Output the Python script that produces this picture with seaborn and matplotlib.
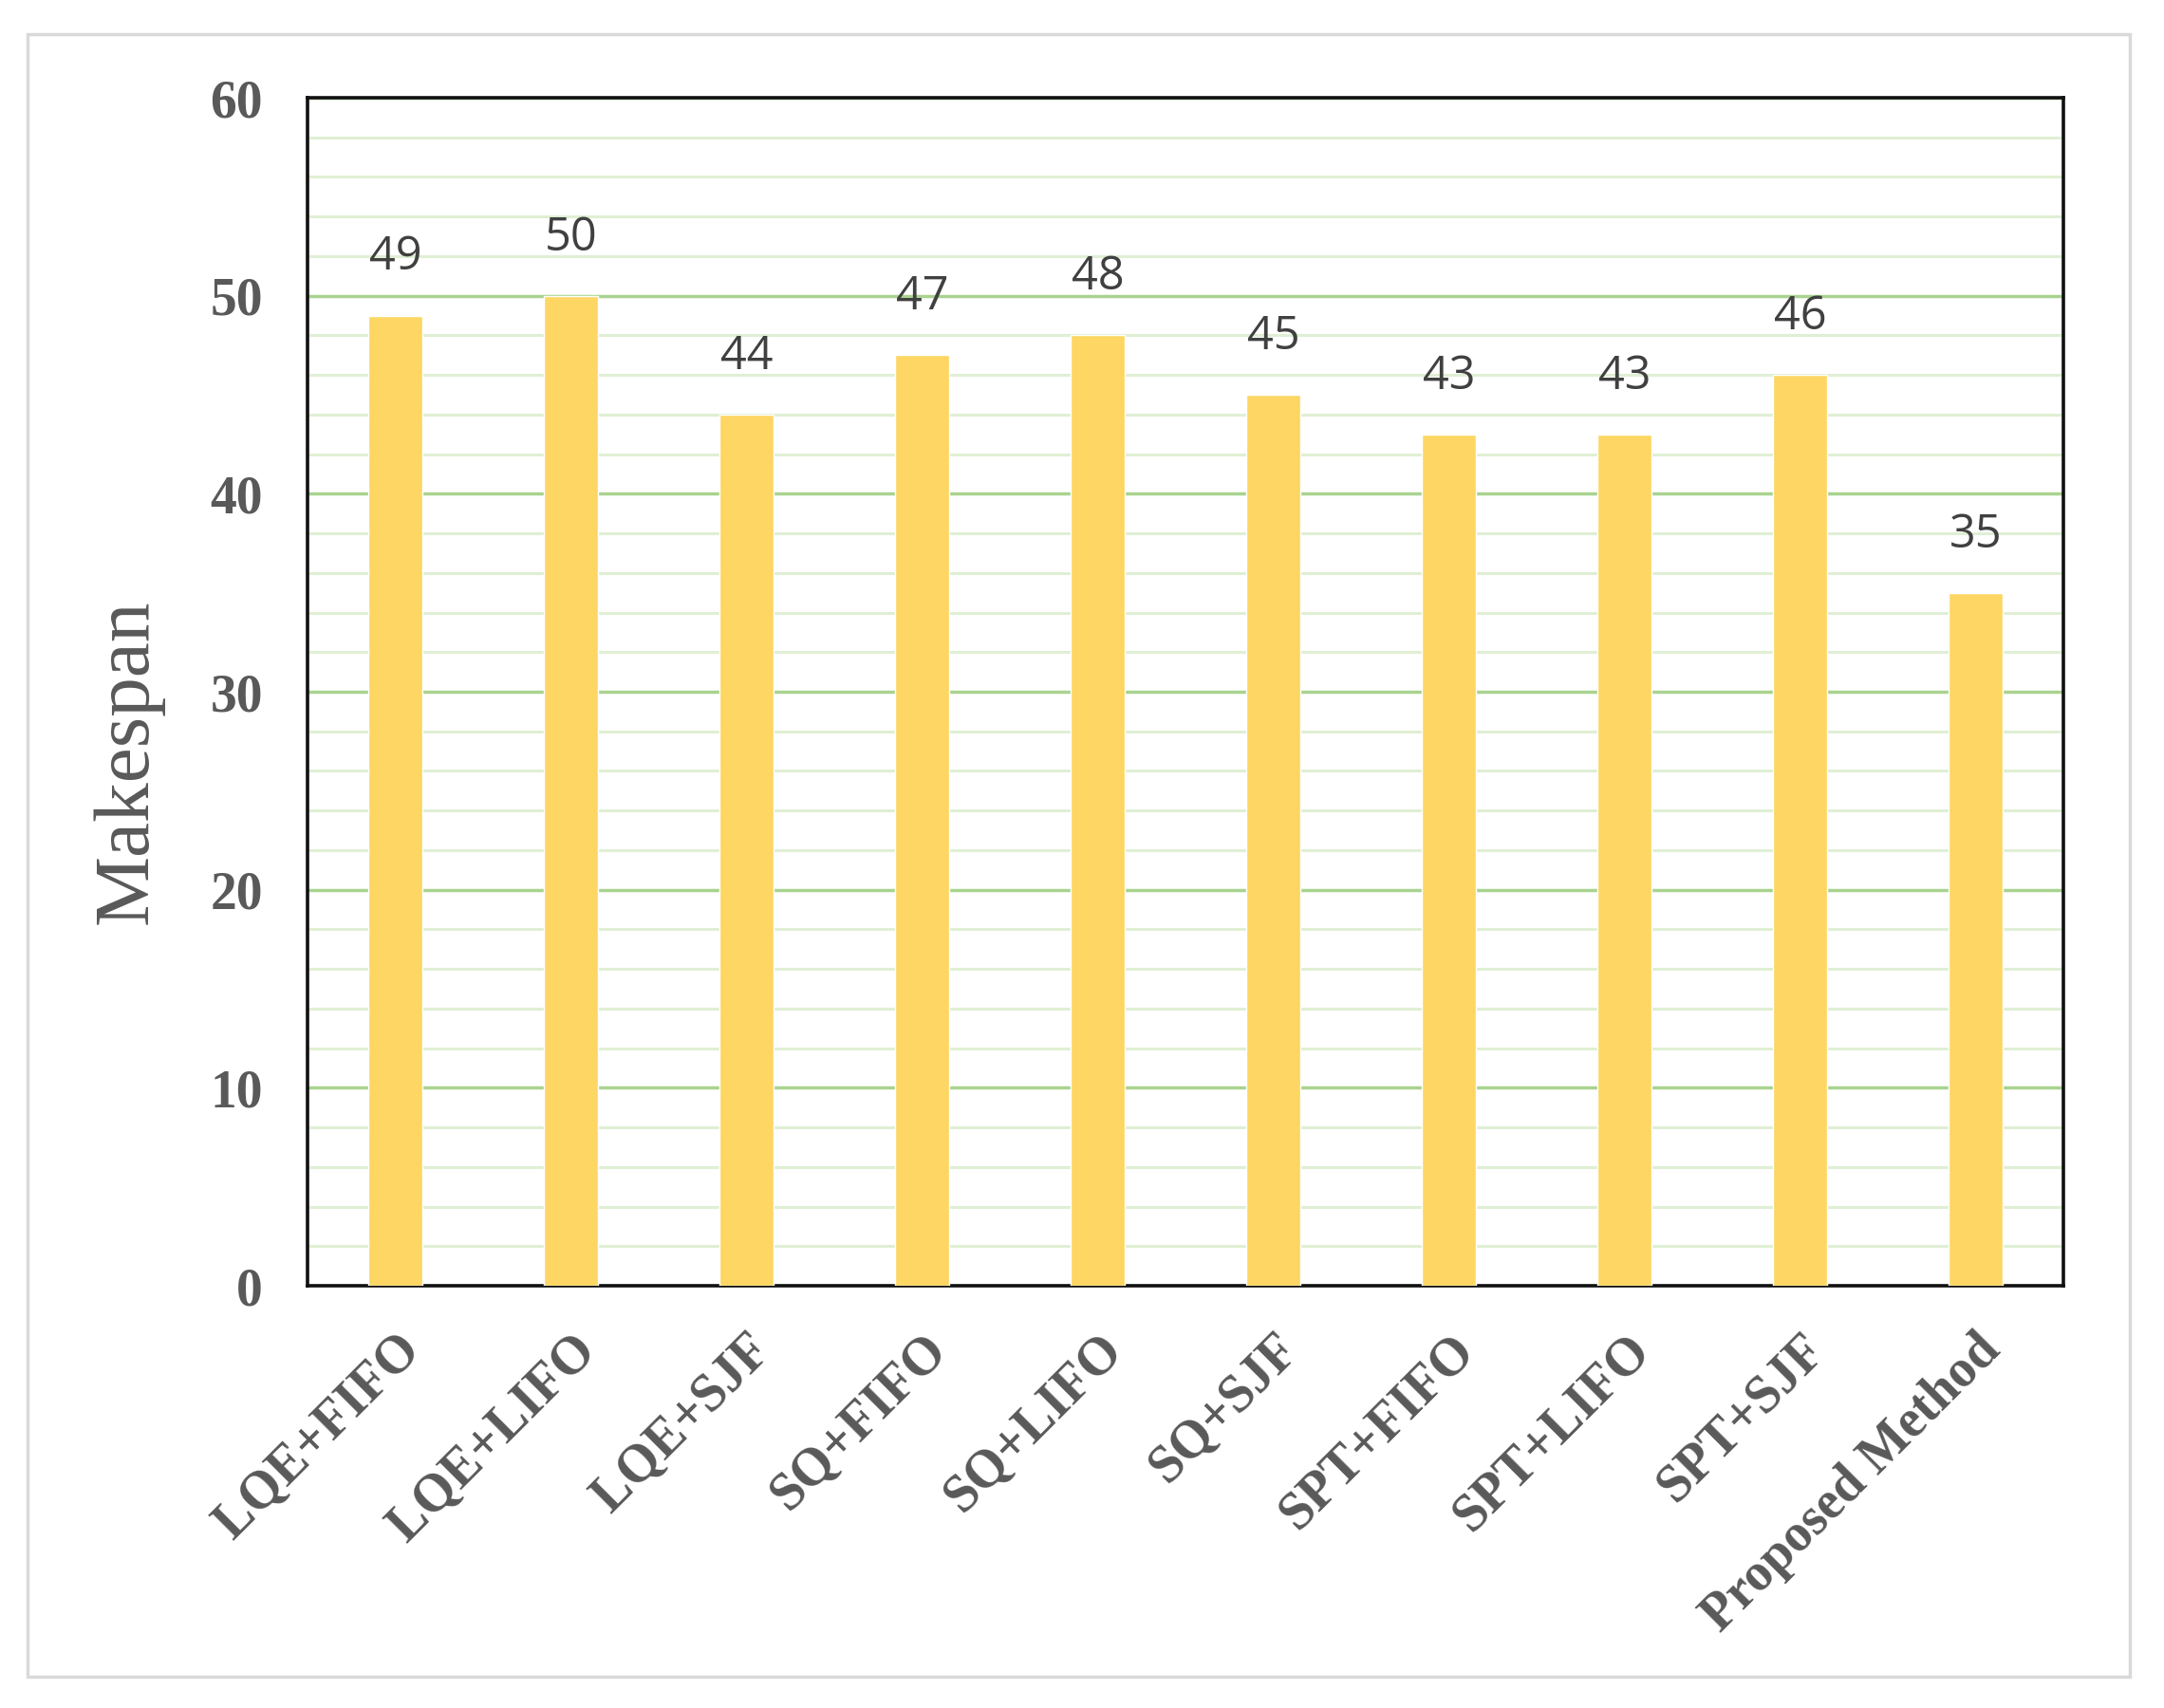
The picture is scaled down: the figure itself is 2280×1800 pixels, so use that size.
import numpy as np
import pandas as pd
import matplotlib
matplotlib.use("Agg")
import matplotlib.pyplot as plt
from matplotlib.patches import Rectangle
from matplotlib.ticker import MultipleLocator, FixedLocator
import seaborn as sns

categories = ["LQE+FIFO", "LQE+LIFO", "LQE+SJF", "SQ+FIFO", "SQ+LIFO",
              "SQ+SJF", "SPT+FIFO", "SPT+LIFO", "SPT+SJF", "Proposed Method"]
makespan = [49, 50, 44, 47, 48, 45, 43, 43, 46, 35]
y_ticks = [0, 10, 20, 30, 40, 50, 60]

sns.set_style("white")
plt.rcParams['font.family'] = ['Liberation Serif', 'DejaVu Serif']

df = pd.DataFrame({"method": categories, "makespan": makespan})

fig = plt.figure(figsize=(22.8, 18), dpi=100)
ax = fig.add_axes([324/2280, 1-1355/1800, (2174-324)/2280, (1355-103)/1800])

sns.barplot(data=df, x="method", y="makespan", color="#FDD663", saturation=1,
            width=0.31, ax=ax, zorder=3)

ax.set_xlim(-0.5, len(categories) - 0.5)
ax.set_ylim(0, 60)
ax.set_yticks(y_ticks)
ax.yaxis.set_minor_locator(MultipleLocator(2))
ax.grid(False)
ax.grid(True, axis='y', which='minor', color='#DFEFD4', linewidth=2.2, zorder=0)
ax.grid(True, axis='y', which='major', color='#A9D38F', linewidth=2.5, zorder=1)
ax.set_axisbelow(True)

# y tick labels
ax.tick_params(axis='y', which='both', length=0, pad=34, labelsize=40,
               labelcolor='#595959')
for t in ax.get_yticklabels():
    t.set_fontweight('bold')

# x: labels at category centres, tick marks at boundaries
ax.set_xticks(range(len(categories)))
ax.set_xticklabels(categories, rotation=45, ha='right', va='top',
                   rotation_mode='anchor', fontsize=40, fontweight='bold',
                   color='#595959')
ax.tick_params(axis='x', which='major', length=0, pad=30)
ax.xaxis.set_minor_locator(FixedLocator(np.arange(-0.5, len(categories), 1.0)))
ax.tick_params(axis='x', which='minor', length=10, width=2.5, color='#111111',
               direction='out')

for s in ax.spines.values():
    s.set_visible(True)
    s.set_color('#111111')
    s.set_linewidth(2.6)

ax.set_xlabel("")
ax.set_ylabel("Makespan", fontsize=60, color='#595959', va='center')
ax.yaxis.set_label_coords(-0.102, 0.441)

ax.bar_label(ax.containers[0], padding=26, fontsize=35, color='#404040',
             family=['Open Sans', 'DejaVu Sans'])

fig.add_artist(Rectangle((29/2280, 1-1767/1800), (2244-29)/2280, (1767-36)/1800,
                         transform=fig.transFigure, fill=False,
                         edgecolor='#D9D9D9', linewidth=2.5))

fig.savefig("out.png", dpi=100, facecolor='white')
